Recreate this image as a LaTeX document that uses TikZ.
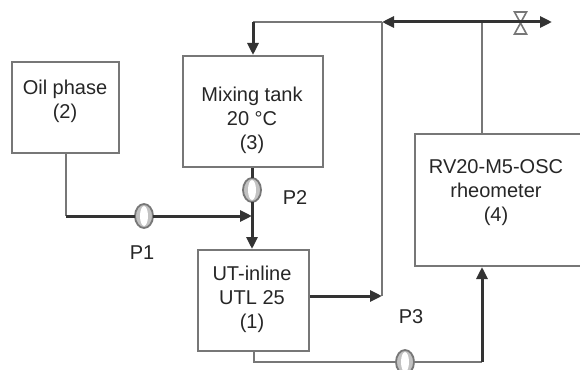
\documentclass[tikz,border=0pt]{standalone}
\usepackage{fontspec}
\setmainfont{Liberation Sans}
\usetikzlibrary{arrows.meta,shapes.geometric}
\definecolor{linegray}{HTML}{777777}
\definecolor{flowdark}{HTML}{333333}
\tikzset{
  unit/.style={draw=linegray, line width=2pt, inner sep=0pt, anchor=north west},
  tag/.style={inner sep=0pt, align=center, font=\fontsize{20}{24}\selectfont, text=black!85},
  thinline/.style={draw=linegray, line width=2pt},
  thickline/.style={draw=flowdark, line width=3pt},
  flow/.style={thickline, -{Triangle[length=12pt,width=11pt]}},
  pumpbody/.style={draw=linegray, fill=linegray!45, line width=1.8pt, ellipse, minimum width=18pt, minimum height=24pt, inner sep=0pt, outer sep=0pt},
  pumpcore/.style={fill=white, ellipse, minimum width=8pt, minimum height=20pt, inner sep=0pt},
}
\begin{document}
\begin{tikzpicture}[x=1pt,y=-1pt]
\useasboundingbox (0,0) rectangle (580,369);
% vessels
\node[unit, minimum width=107pt, minimum height=91pt] (oil) at (11,61) {};
\node[unit, minimum width=140pt, minimum height=111pt] (tank) at (182,55) {};
\node[unit, minimum width=111pt, minimum height=101pt] (mixer) at (197,249) {};
\node[unit, minimum width=180pt, minimum height=132pt] (rheo) at (414,133) {};
\node[tag] (oiltext) at (65,101.5) {Oil phase\\(2)};
\node[tag] (tanktext) at (252,120.5) {Mixing tank\\20 °C\\(3)};
\node[tag] (mixertext) at (252,299) {UT-inline\\UTL 25\\(1)};
\node[tag] (rheotext) at (496,192.5) {RV20-M5-OSC\\rheometer\\(4)};
% pumps
\foreach \name/\xpos/\ypos in {pone/144/216, ptwo/252/190, pthree/405/362} {
  \node[pumpbody] (\name) at (\xpos,\ypos) {};
  \node[pumpcore] at (\name) {};
}
\node[tag] (ponetext) at (142,253) {P1};
\node[tag] (ptwotext) at (295,198) {P2};
\node[tag] (pthreetext) at (411,317) {P3};
% junctions
\coordinate (elbow) at (oil.south |- pone);
\coordinate (merge) at (ptwo.center |- pone);
\coordinate (branch) at (382,22);
\coordinate (tee) at (482,22);
\coordinate (vent) at (552,22);
\coordinate (valve) at (520.5,23);
\coordinate (inlet) at (branch |- 0,296);
\coordinate (corner) at (tee |- pthree);
% valve
\draw[thinline, line width=1.6pt, shift={(valve)}] (-6,-11) -- (6,-11) -- (-6,11) -- (6,11) -- cycle;
% gray lines
\draw[thinline] (oil.south) -- (elbow);
\draw[thinline] (tank.north |- branch) -- (branch);
\draw[thinline] (branch) -- (inlet);
\draw[thinline] (tee) -- (rheo.north -| tee);
\draw[thinline] (mixer.south) |- (pthree.west);
\draw[thinline] (pthree.east) -- (corner);
% dark lines
\draw[thickline] (elbow) -- (pone.west);
\draw[flow] (pone.east) -- (merge);
\draw[thickline] (tank.south -| ptwo) -- (ptwo.north);
\draw[flow] (ptwo.south) -- (ptwo.south |- mixer.north);
\draw[flow] (tank.north |- branch) -- (tank.north);
\draw[flow] (tee) -- (branch);
\draw[flow] (tee) -- (vent);
\draw[flow] (mixer.east |- inlet) -- (inlet);
\draw[flow] (corner) -- (rheo.south -| corner);
\end{tikzpicture}
\end{document}
